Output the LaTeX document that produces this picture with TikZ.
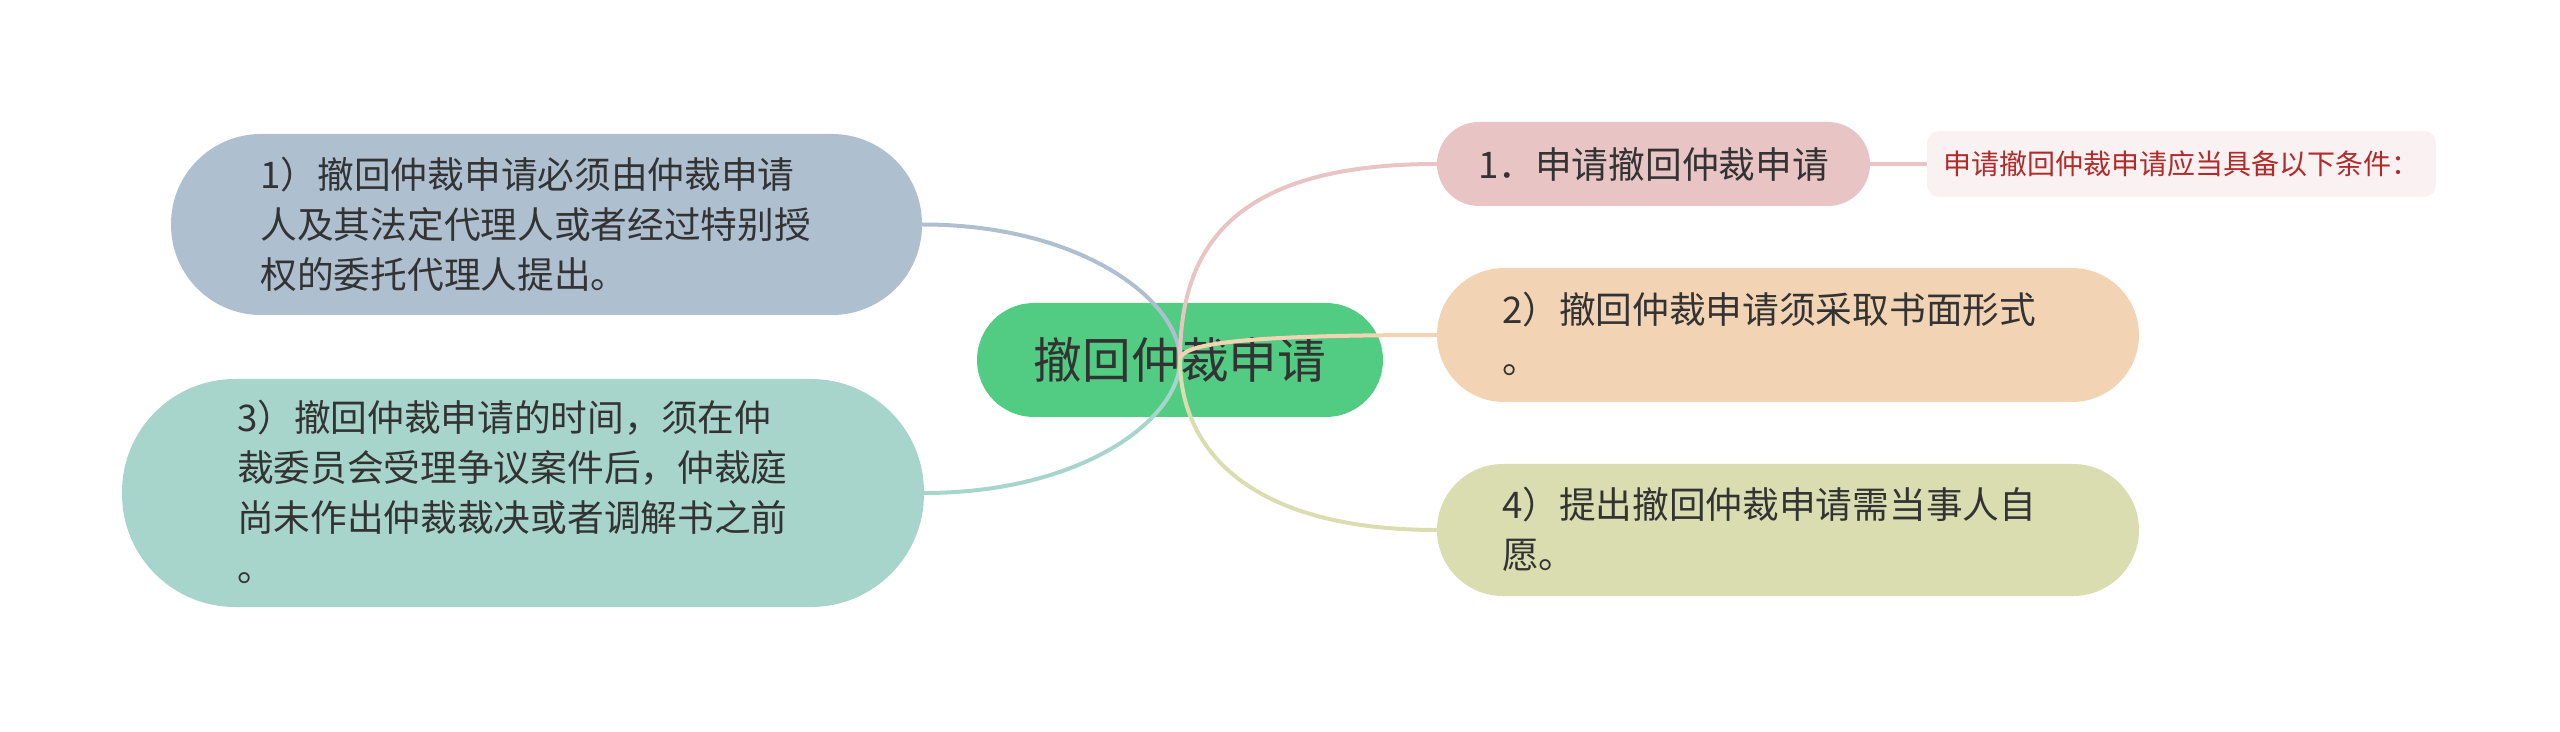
\documentclass[tikz,border=0pt]{standalone}
\usepackage{fontspec}
\newfontfamily\cjk{Noto Sans CJK SC}
\definecolor{rootc}{HTML}{52CC83}
\definecolor{txt}{HTML}{333333}
\definecolor{c1}{HTML}{AEBFD0}
\definecolor{c3}{HTML}{A8D5CB}
\definecolor{c0}{HTML}{E8C4C4}
\definecolor{c2}{HTML}{F2D4B4}
\definecolor{c4}{HTML}{D9DDB0}
\definecolor{notebg}{HTML}{FAF2F2}
\definecolor{notetxt}{HTML}{B22B2B}
\pgfdeclarelayer{bg}\pgfdeclarelayer{mid}
\pgfsetlayers{bg,mid,main}
\newcommand\lst{\rule[-5.6pt]{0pt}{25pt}}
\begin{document}
\begin{tikzpicture}[x=0.5pt,y=-0.5pt,
  bigtxt/.style={font=\cjk\fontsize{18.35}{25}\selectfont, text=txt},
  branch/.style={inner sep=0pt, align=left, text width=286pt, bigtxt},
  conn/.style={line width=2pt, line cap=round}]
\useasboundingbox (0,0) rectangle (2560,732);
\begin{pgfonlayer}{bg}
\node[fill=rootc, minimum width=203pt, minimum height=57pt, rounded corners=28.5pt, inner sep=0pt, font=\cjk\fontsize{24.35}{30}\selectfont, text=txt] (root) at (1180,360) {撤回仲裁申请};
\end{pgfonlayer}
\node[branch, fill=c1, minimum width=375.5pt, minimum height=90.5pt, rounded corners=45pt] (n1) at (546.5,224.5) {\lst 1）撤回仲裁申请必须由仲裁申请\\\lst 人及其法定代理人或者经过特别授\\\lst 权的委托代理人提出。};
\node[branch, fill=c3, minimum width=401pt, minimum height=114pt, rounded corners=56.5pt] (n3) at (523,493) {\lst 3）撤回仲裁申请的时间，须在仲\\\lst 裁委员会受理争议案件后，仲裁庭\\\lst 尚未作出仲裁裁决或者调解书之前\\\lst 。};
\node[fill=c0, minimum width=216.5pt, minimum height=42pt, rounded corners=21pt, inner sep=0pt, bigtxt] (n0) at (1653.5,164) {1．申请撤回仲裁申请};
\node[fill=notebg, minimum width=254.5pt, minimum height=33pt, rounded corners=6pt, inner sep=0pt, font=\cjk\fontsize{14}{17}\selectfont, text=notetxt] (note) at (2181.5,164) {申请撤回仲裁申请应当具备以下条件：};
\node[branch, fill=c2, minimum width=351pt, minimum height=67pt, rounded corners=33.5pt] (n2) at (1788,335) {\lst 2）撤回仲裁申请须采取书面形式\\\lst 。};
\node[branch, fill=c4, minimum width=351pt, minimum height=66pt, rounded corners=33pt] (n4) at (1788,530) {\lst 4）提出撤回仲裁申请需当事人自\\\lst 愿。};
\begin{pgfonlayer}{mid}
\draw[conn, c1] (root.center) .. controls +(0,-60) and +(158,0) .. (n1.east);
\draw[conn, c3] (root.center) .. controls +(0,60) and +(156,0) .. (n3.east);
\draw[conn, c0] (root.center) .. controls +(0,-110) and +(-207,0) .. (n0.west);
\draw[conn, c2] (root.center) .. controls +(0,-15) and +(-207,0) .. (n2.west);
\draw[conn, c4] (root.center) .. controls +(0,85) and +(-193,0) .. (n4.west);
\draw[conn, c0] (n0.east) -- (note.west);
\end{pgfonlayer}
\end{tikzpicture}
\end{document}
